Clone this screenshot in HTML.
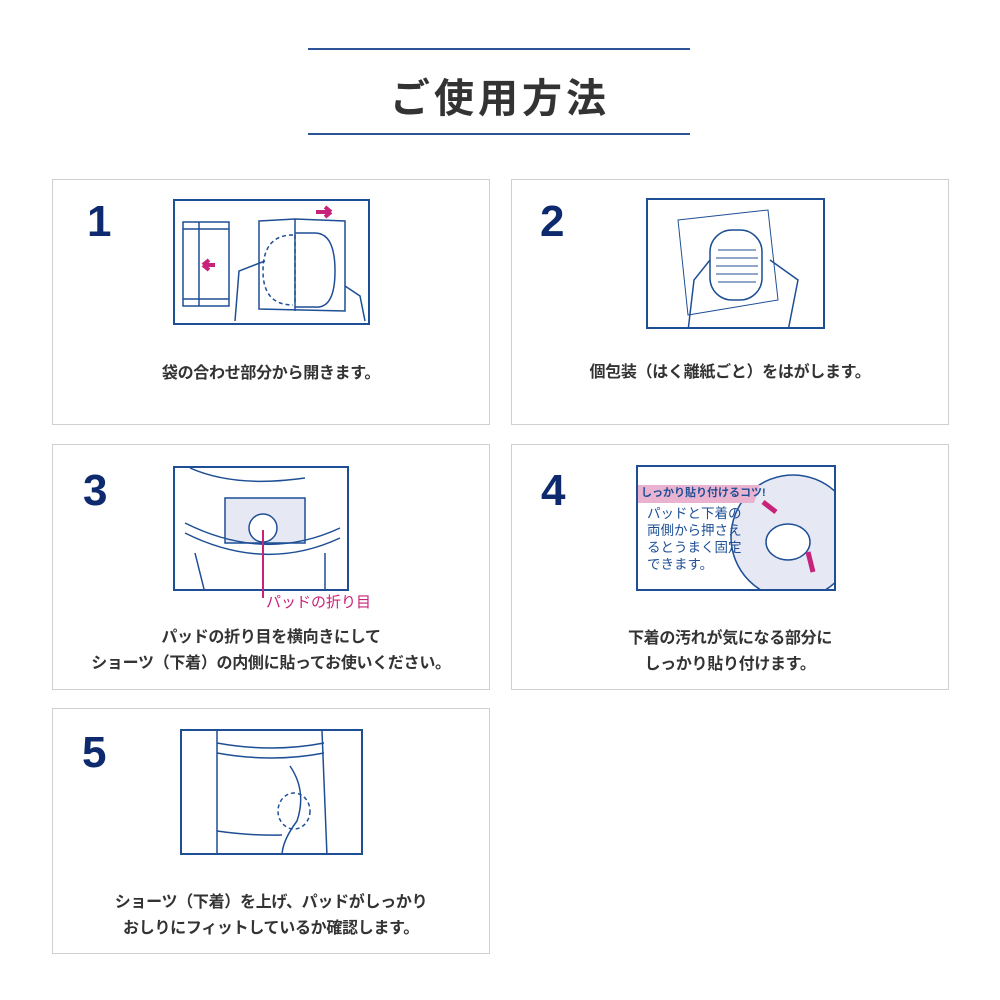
<!DOCTYPE html>
<html><head><meta charset="utf-8"><style>
body{margin:0;width:1000px;height:1000px;background:#fff;position:relative;font-family:"Liberation Sans","Noto Sans CJK JP",sans-serif;overflow:hidden}
.ln{position:absolute;left:308px;width:382px;height:2px;background:#2c5597}
.title{position:absolute;left:0;width:1000px;top:66px;text-align:center;font-size:40px;font-weight:bold;color:#333;letter-spacing:4px}
.box{position:absolute;width:438px;height:246px;border:1px solid #cfcfcf;box-sizing:border-box}
.num{position:absolute;font-size:44px;font-weight:bold;color:#0d2a6e;line-height:1}
.cap{position:absolute;left:0;width:100%;text-align:center;font-size:16px;font-weight:bold;color:#333;line-height:26px;letter-spacing:-0.3px}
.ill{position:absolute;border:2px solid #1e4f96;box-sizing:border-box;background:#fff;overflow:hidden}
svg{position:absolute;left:0;top:0}
</style></head><body>
<div class="ln" style="top:48px"></div>
<div class="title">ご使用方法</div>
<div class="ln" style="top:133px"></div>

<div class="box" style="left:52px;top:179px">
 <div class="num" style="left:34px;top:20px">1</div>
 <div class="cap" style="top:181px">袋の合わせ部分から開きます。</div>
</div>
<div class="ill" style="left:173px;top:199px;width:197px;height:126px">
<svg width="197" height="126" fill="none" stroke="#1e4f96" stroke-width="1.5">
<rect x="8" y="21" width="46" height="84"/><line x1="8" y1="28" x2="54" y2="28"/><line x1="8" y1="98" x2="54" y2="98"/><line x1="24" y1="21" x2="24" y2="105"/>
<path d="M84 20 L120 18 L170 20 L170 110 L84 108Z"/><line x1="120" y1="18" x2="120" y2="110"/>
<path d="M120 32 H140 Q160 32 160 70 Q160 108 140 106 H120"/><path d="M120 34 V104" stroke-dasharray="4 3"/>
<path d="M118 34 Q88 34 88 70 Q88 104 118 104" stroke-dasharray="4 3"/>
<path d="M60 120 L64 70 L90 60 M170 85 L185 95 L190 120"/>
<path d="M40 64 H28 M28 64 l6 -5 M28 64 l6 5" stroke="#c8237a" stroke-width="4"/>
<path d="M141 11 H156 M156 11 l-6 -5 M156 11 l-6 5" stroke="#c8237a" stroke-width="4"/>
</svg></div>

<div class="box" style="left:511px;top:179px">
 <div class="num" style="left:28px;top:20px">2</div>
 <div class="cap" style="top:180px">個包装（はく離紙ごと）をはがします。</div>
</div>
<div class="ill" style="left:646px;top:198px;width:179px;height:131px">
<svg width="179" height="131" fill="none" stroke="#1e4f96" stroke-width="1.5">
<path d="M30 20 L120 10 L130 100 L40 115Z" stroke-width="1"/>
<rect x="62" y="30" width="52" height="70" rx="22"/>
<g stroke-width="1"><line x1="70" y1="50" x2="108" y2="50"/><line x1="68" y1="58" x2="110" y2="58"/><line x1="68" y1="66" x2="110" y2="66"/><line x1="68" y1="74" x2="110" y2="74"/><line x1="70" y1="82" x2="108" y2="82"/></g>
<path d="M40 131 L46 80 L62 60 M140 131 L150 80 L122 60"/>
</svg></div>

<div class="box" style="left:52px;top:444px">
 <div class="num" style="left:30px;top:24px">3</div>
 <div class="cap" style="top:180px">パッドの折り目を横向きにして<br>ショーツ（下着）の内側に貼ってお使いください。</div>
</div>
<div class="ill" style="left:173px;top:466px;width:176px;height:125px">
<svg width="176" height="125" fill="none" stroke="#1e4f96" stroke-width="1.5">
<path d="M50 30 L130 30 L130 75 L50 75Z" fill="#e6e8f4"/>
<circle cx="88" cy="60" r="14" fill="#fff"/>
<path d="M10 55 Q90 95 165 60 M10 65 Q90 105 165 70"/>
<path d="M15 0 Q60 20 130 10 M30 125 L20 85 M150 125 L150 85"/>
</svg></div>
<div style="position:absolute;left:262px;top:530px;width:2px;height:68px;background:#c8237a"></div>
<div style="position:absolute;left:266px;top:591px;font-size:15px;color:#c8237a">パッドの折り目</div>

<div class="box" style="left:511px;top:444px">
 <div class="num" style="left:29px;top:24px">4</div>
 <div class="cap" style="top:181px">下着の汚れが気になる部分に<br>しっかり貼り付けます。</div>
</div>
<div class="ill" style="left:636px;top:465px;width:200px;height:126px">
<svg width="200" height="126" fill="none" stroke="#1e4f96" stroke-width="1.5">
<circle cx="155" cy="70" r="62" fill="#e6e8f4"/>
<ellipse cx="150" cy="75" rx="22" ry="18" fill="#fff"/>
<path d="M125 35 L138 45 M170 85 L175 105" stroke="#c8237a" stroke-width="5"/>
<path d="M0 18 H122 L116 36 H0Z" fill="#e9b3d0" stroke="none"/>
</svg>
<div style="position:absolute;left:3px;top:17px;font-size:11px;font-weight:bold;color:#1e4f96">しっかり貼り付けるコツ!</div>
<div style="position:absolute;left:9px;top:38px;font-size:13.5px;line-height:17px;color:#1e4f96">パッドと下着の<br>両側から押さえ<br>るとうまく固定<br>できます。</div>
</div>

<div class="box" style="left:52px;top:708px">
 <div class="num" style="left:29px;top:22px">5</div>
 <div class="cap" style="top:181px">ショーツ（下着）を上げ、パッドがしっかり<br>おしりにフィットしているか確認します。</div>
</div>
<div class="ill" style="left:180px;top:729px;width:183px;height:126px">
<svg width="183" height="126" fill="none" stroke="#1e4f96" stroke-width="1.5">
<path d="M35 0 L35 125 M140 0 L145 125 M35 12 Q90 22 142 12 M35 22 Q90 32 142 22"/>
<path d="M108 35 Q125 60 115 90 Q100 110 100 125"/>
<ellipse cx="112" cy="80" rx="16" ry="18" stroke-dasharray="4 3"/>
<path d="M35 100 Q70 105 100 104"/>
</svg></div>
</body></html>
